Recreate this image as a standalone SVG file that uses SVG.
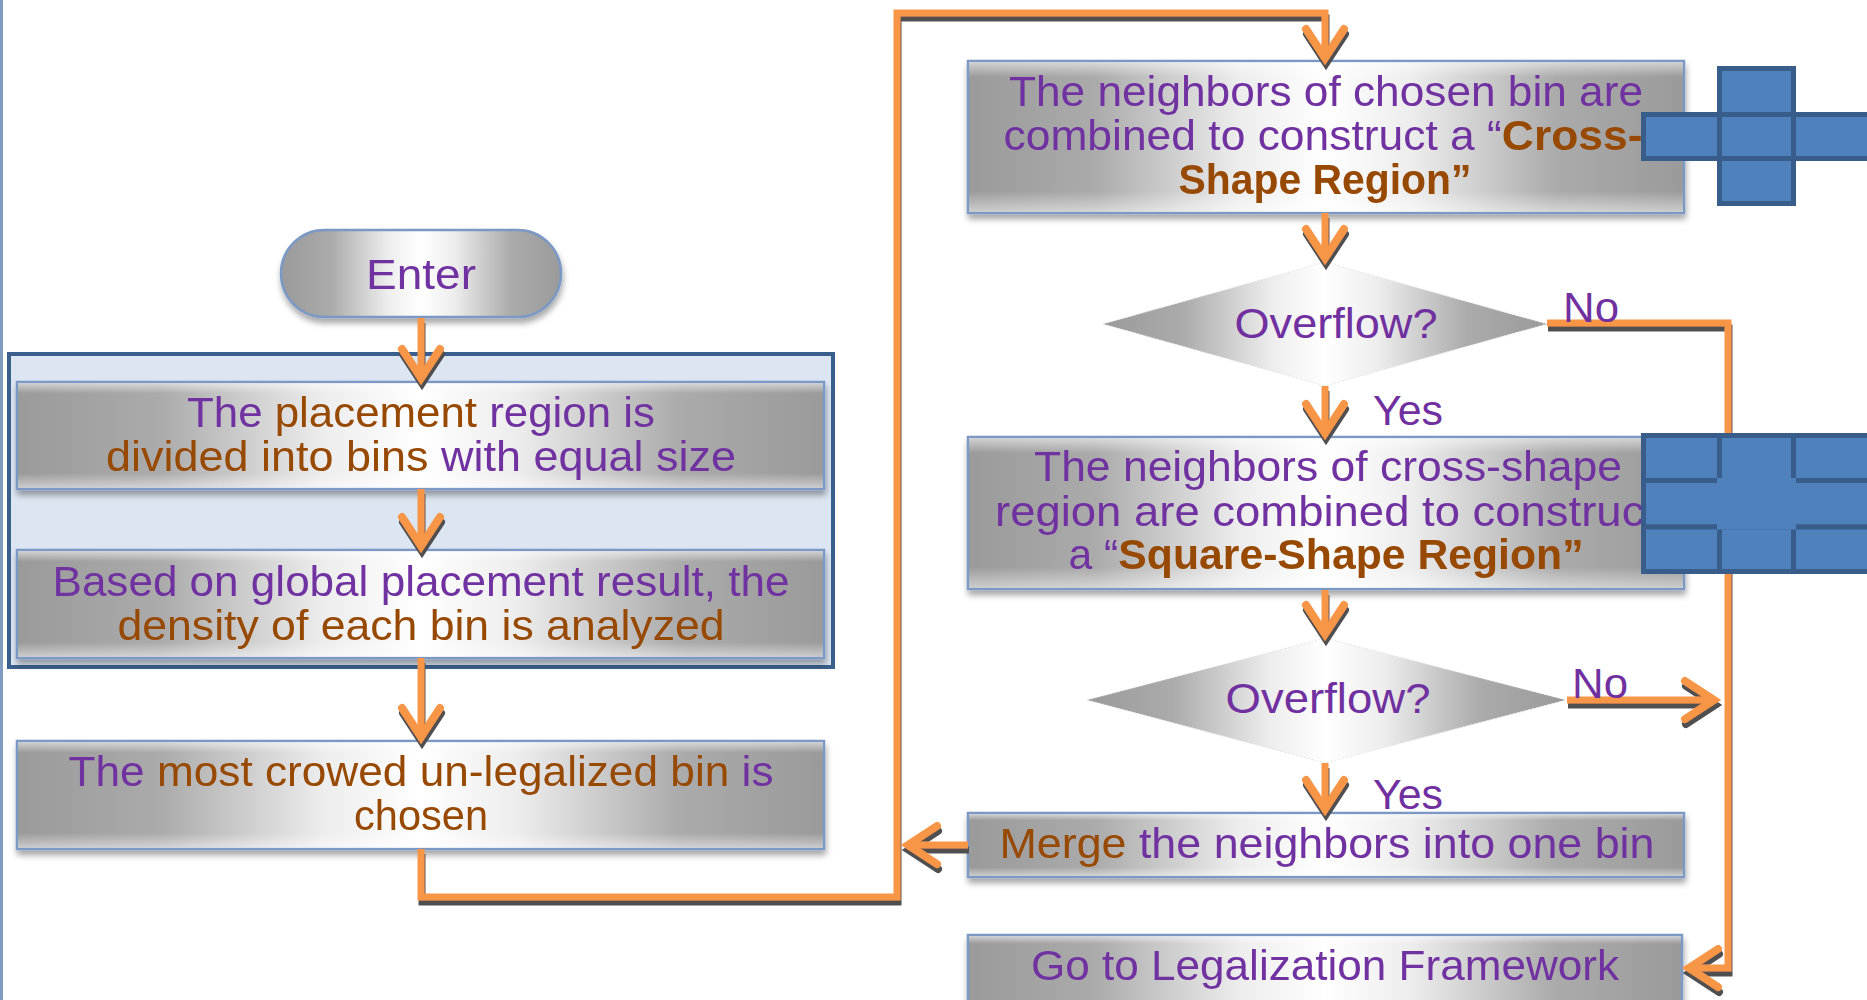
<svg xmlns="http://www.w3.org/2000/svg" width="1867" height="1000" viewBox="0 0 1867 1000">
  <defs>
    <style>
      .t { font-family: "Liberation Sans", Arial, sans-serif; font-size: 42px; text-anchor: middle; }
      .p { fill: #7030A0; }
      .b { fill: #974806; }
      .bold { font-weight: bold; }
      .box { fill: url(#shade); stroke: #7B98C4; stroke-width: 2.5; }
      .bevel { fill: url(#bevel); stroke: none; }
      .dia { fill: url(#shade); stroke: #E6E6E6; stroke-width: 1; stroke-dasharray: 2 2; }
      .cell { fill: #4F81BD; stroke: #385D8A; stroke-width: 5; }
      .wire { fill: none; stroke: #F79646; stroke-width: 7; stroke-linejoin: miter; stroke-linecap: butt; }
    </style>
    <linearGradient id="shade" x1="0" y1="0" x2="1" y2="0">
      <stop offset="0" stop-color="#9A9A9A"/>
      <stop offset="0.18" stop-color="#ABABAB"/>
      <stop offset="0.38" stop-color="#EDEDED"/>
      <stop offset="0.5" stop-color="#FFFFFF"/>
      <stop offset="0.62" stop-color="#EDEDED"/>
      <stop offset="0.82" stop-color="#ABABAB"/>
      <stop offset="1" stop-color="#9A9A9A"/>
    </linearGradient>
    <linearGradient id="bevel" x1="0" y1="0" x2="0" y2="1">
      <stop offset="0" stop-color="#FFFFFF" stop-opacity="0.55"/>
      <stop offset="0.1" stop-color="#FFFFFF" stop-opacity="0"/>
      <stop offset="0.86" stop-color="#FFFFFF" stop-opacity="0"/>
      <stop offset="1" stop-color="#FFFFFF" stop-opacity="0.5"/>
    </linearGradient>
    <!-- soft shadow under the process boxes -->
    <filter id="soft" x="-5%" y="-10%" width="110%" height="135%">
      <feGaussianBlur in="SourceAlpha" stdDeviation="3"/>
      <feOffset dx="1" dy="5" result="o"/>
      <feComponentTransfer><feFuncA type="linear" slope="0.35"/></feComponentTransfer>
      <feMerge><feMergeNode/><feMergeNode in="SourceGraphic"/></feMerge>
    </filter>
    <!-- hard dark shadow under the connectors -->
    <filter id="hard" filterUnits="userSpaceOnUse" x="0" y="0" width="1867" height="1000">
      <feFlood flood-color="#505050"/>
      <feComposite in2="SourceAlpha" operator="in"/>
      <feOffset dx="1" dy="5" result="s"/>
      <feMerge><feMergeNode in="s"/><feMergeNode in="SourceGraphic"/></feMerge>
    </filter>
    <marker id="head" markerUnits="userSpaceOnUse" markerWidth="60" markerHeight="60" viewBox="-40 -30 60 60" refX="0" refY="0" orient="auto" overflow="visible">
      <path d="M -29 -19 L 0 0 L -29 19" fill="none" stroke="#F79646" stroke-width="8" stroke-linejoin="miter" stroke-linecap="round"/>
    </marker>
  </defs>

  <rect width="1867" height="1000" fill="#FFFFFF"/>
  <rect x="0" y="0" width="3" height="1000" fill="#7F9CBF"/>

  <!-- grouping frame around the preparation steps -->
  <g id="prep-frame">
    <rect x="9" y="354" width="824" height="313" fill="#DCE6F2" stroke="#3B5F8C" stroke-width="4"/>
  </g>

  <g id="enter" filter="url(#soft)">
    <rect x="281" y="230" width="280" height="87" rx="43.5" class="box" stroke="#6C8DBA" stroke-width="3"/>
    <text class="t p" x="421" y="289" textLength="110" lengthAdjust="spacingAndGlyphs">Enter</text>
  </g>

  <g id="divide-bins" filter="url(#soft)">
    <rect x="17" y="382" width="807" height="107" class="box"/>
    <rect x="18" y="383" width="805" height="105" class="bevel"/>
    <text class="t" x="421" y="427" textLength="468" lengthAdjust="spacingAndGlyphs"><tspan class="p">The </tspan><tspan class="b">placement </tspan><tspan class="p">region is</tspan></text>
    <text class="t" x="421" y="471" textLength="630" lengthAdjust="spacingAndGlyphs"><tspan class="b">divided into bins </tspan><tspan class="p">with equal size</tspan></text>
  </g>

  <g id="analyze-density" filter="url(#soft)">
    <rect x="17" y="550" width="807" height="108" class="box"/>
    <rect x="18" y="551" width="805" height="106" class="bevel"/>
    <text class="t p" x="421" y="596" textLength="737" lengthAdjust="spacingAndGlyphs">Based on global placement result, the</text>
    <text class="t b" x="421" y="640" textLength="607" lengthAdjust="spacingAndGlyphs">density of each bin is analyzed</text>
  </g>

  <g id="choose-bin" filter="url(#soft)">
    <rect x="17" y="741" width="807" height="108" class="box"/>
    <rect x="18" y="742" width="805" height="106" class="bevel"/>
    <text class="t" x="421" y="786" textLength="705" lengthAdjust="spacingAndGlyphs"><tspan class="p">The </tspan><tspan class="b">most crowed un-legalized bin </tspan><tspan class="p">is</tspan></text>
    <text class="t b" x="421" y="830" textLength="134" lengthAdjust="spacingAndGlyphs">chosen</text>
  </g>

  <g id="cross-region" filter="url(#soft)">
    <rect x="968" y="61" width="716" height="152" class="box"/>
    <rect x="969" y="62" width="714" height="150" class="bevel"/>
    <text class="t p" x="1326" y="106" textLength="634" lengthAdjust="spacingAndGlyphs">The neighbors of chosen bin are</text>
    <text class="t" x="1323" y="150" textLength="639" lengthAdjust="spacingAndGlyphs"><tspan class="p">combined to construct a “</tspan><tspan class="b bold">Cross-</tspan></text>
    <text class="t b bold" x="1325" y="194" textLength="293" lengthAdjust="spacingAndGlyphs">Shape Region”</text>
  </g>

  <g id="overflow-1">
    <polygon points="1103,324 1325,262 1547,324 1325,386" class="dia"/>
    <text class="t p" x="1336" y="338" textLength="203" lengthAdjust="spacingAndGlyphs">Overflow?</text>
  </g>

  <g id="square-region" filter="url(#soft)">
    <rect x="968" y="437" width="716" height="152" class="box"/>
    <rect x="969" y="438" width="714" height="150" class="bevel"/>
    <text class="t p" x="1328" y="481" textLength="588" lengthAdjust="spacingAndGlyphs">The neighbors of cross-shape</text>
    <text class="t p" x="1326" y="526" textLength="662" lengthAdjust="spacingAndGlyphs">region are combined to construct</text>
    <text class="t" x="1326" y="569" textLength="515" lengthAdjust="spacingAndGlyphs"><tspan class="p">a “</tspan><tspan class="b bold">Square-Shape Region”</tspan></text>
  </g>

  <g id="overflow-2">
    <polygon points="1087,700 1325,638 1566,700 1325,763" class="dia"/>
    <text class="t p" x="1328" y="713" textLength="205" lengthAdjust="spacingAndGlyphs">Overflow?</text>
  </g>

  <g id="merge" filter="url(#soft)">
    <rect x="968" y="813" width="716" height="64" class="box"/>
    <rect x="969" y="814" width="714" height="62" class="bevel"/>
    <text class="t" x="1327" y="858" textLength="655" lengthAdjust="spacingAndGlyphs"><tspan class="b">Merge </tspan><tspan class="p">the neighbors into one bin</tspan></text>
  </g>

  <g id="legalize" filter="url(#soft)">
    <rect x="968" y="935" width="714" height="80" class="box"/>
    <rect x="969" y="936" width="712" height="78" class="bevel"/>
    <text class="t p" x="1325" y="980" textLength="588" lengthAdjust="spacingAndGlyphs">Go to Legalization Framework</text>
  </g>

  <!-- connectors -->
  <g id="connectors" filter="url(#hard)">
    <path class="wire" d="M 421 318 V 378" marker-end="url(#head)"/>
    <path class="wire" d="M 421 489 V 546" marker-end="url(#head)"/>
    <path class="wire" d="M 421 658 V 737" marker-end="url(#head)"/>
    <path class="wire" d="M 421 849 V 897 H 897 V 13 H 1325 V 58" marker-end="url(#head)"/>
    <path class="wire" d="M 1325 213 V 258" marker-end="url(#head)"/>
    <path class="wire" d="M 1325 386 V 433" marker-end="url(#head)"/>
    <path class="wire" d="M 1325 590 V 634" marker-end="url(#head)"/>
    <path class="wire" d="M 1325 763 V 809" marker-end="url(#head)"/>
    <path class="wire" d="M 968 845 H 908" marker-end="url(#head)"/>
    <path class="wire" d="M 1547 323 H 1728 V 968 H 1689" marker-end="url(#head)"/>
    <path class="wire" d="M 1567 700 H 1714" marker-end="url(#head)"/>
  </g>

  <!-- branch labels -->
  <g id="labels">
    <text class="t p" x="1591" y="322" textLength="56" lengthAdjust="spacingAndGlyphs">No</text>
    <text class="t p" x="1408" y="425" textLength="70" lengthAdjust="spacingAndGlyphs">Yes</text>
    <text class="t p" x="1600" y="698" textLength="56" lengthAdjust="spacingAndGlyphs">No</text>
    <text class="t p" x="1408" y="809" textLength="70" lengthAdjust="spacingAndGlyphs">Yes</text>
  </g>

  <!-- cross-shaped bin cluster -->
  <g id="cross-shape">
    <rect x="1719.5" y="68.5" width="74" height="46" class="cell"/>
    <rect x="1643.5" y="114.5" width="76" height="44" class="cell"/>
    <rect x="1719.5" y="114.5" width="74" height="44" class="cell"/>
    <rect x="1793.5" y="114.5" width="76" height="44" class="cell"/>
    <rect x="1719.5" y="158.5" width="74" height="45" class="cell"/>
  </g>

  <!-- square-shaped bin cluster -->
  <g id="square-shape">
    <rect x="1643.5" y="435.5" width="76" height="45" class="cell"/>
    <rect x="1719.5" y="435.5" width="74" height="45" class="cell"/>
    <rect x="1793.5" y="435.5" width="76" height="45" class="cell"/>
    <rect x="1643.5" y="480.5" width="76" height="46.5" class="cell"/>
    <rect x="1719.5" y="480.5" width="74" height="46.5" class="cell"/>
    <rect x="1793.5" y="480.5" width="76" height="46.5" class="cell"/>
    <rect x="1643.5" y="527" width="76" height="44.5" class="cell"/>
    <rect x="1719.5" y="527" width="74" height="44.5" class="cell"/>
    <rect x="1793.5" y="527" width="76" height="44.5" class="cell"/>
    <rect x="1717" y="478" width="79" height="51.5" fill="#4F81BD"/>
  </g>
</svg>
